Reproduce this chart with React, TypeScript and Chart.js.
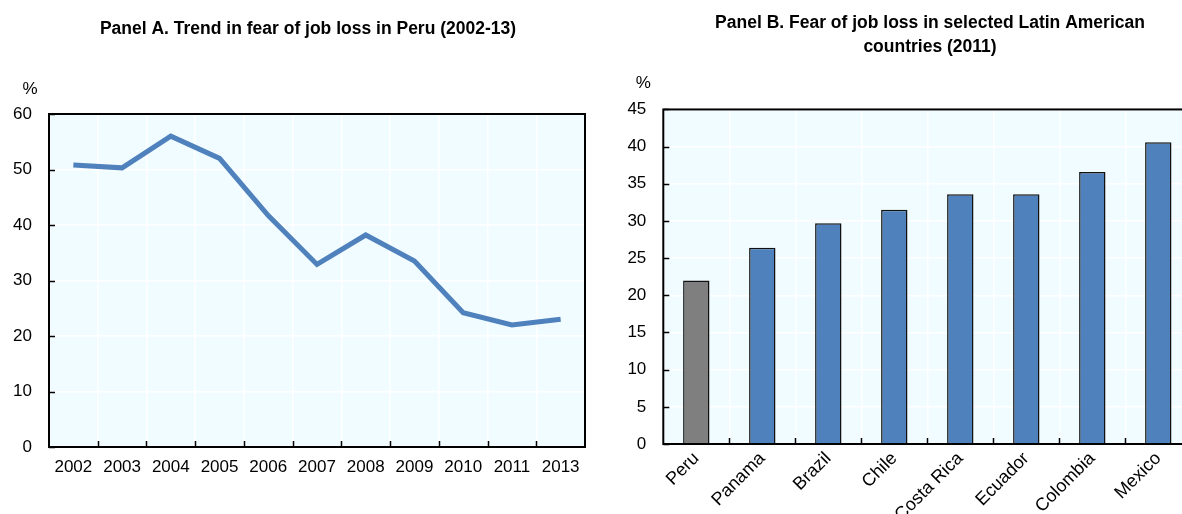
import React, { useEffect, useRef } from 'react';
import { Chart, registerables } from 'chart.js';

Chart.register(...registerables);

// ---- Data ----
const yearsA = ['2002', '2003', '2004', '2005', '2006', '2007', '2008', '2009', '2010', '2011', '2013'];
const fearPeru = [50.8, 50.3, 56.0, 52.0, 41.7, 32.9, 38.2, 33.5, 24.2, 22.0, 23.0];

const countriesB = ['Peru', 'Panama', 'Brazil', 'Chile', 'Costa Rica', 'Ecuador', 'Colombia', 'Mexico'];
const fearB = [22.0, 26.4, 29.7, 31.5, 33.6, 33.6, 36.6, 40.6];
const highlightCountry = 'Peru';

const titleA = 'Panel A. Trend in fear of job loss in Peru (2002-13)';
const titleB = ['Panel B. Fear of job loss in selected Latin American', 'countries (2011)'];
const unitLabel = '%';

// ---- Styles ----
const FONT = '"Liberation Sans", Arial, sans-serif';
const BLUE = '#4F81BD';
const GREY = '#7F7F7F';
const PLOT_BG = '#F0FCFF';

const framePlugin = {
  id: 'frame',
  beforeDraw(chart: any) {
    const { ctx, chartArea: a } = chart;
    ctx.save();
    ctx.fillStyle = PLOT_BG;
    ctx.fillRect(a.left, a.top, a.right - a.left, a.bottom - a.top);
    ctx.restore();
  },
  afterDraw(chart: any, _args: any, opts: any) {
    const { ctx, chartArea: a, scales } = chart;
    ctx.save();
    ctx.strokeStyle = '#000';
    ctx.lineWidth = 1.5;
    const xs = scales.x;
    const n = xs.ticks.length;
    ctx.beginPath();
    for (let i = 1; i < n; i++) {
      const px = Math.round((xs.getPixelForValue(i - 1) + xs.getPixelForValue(i)) / 2) + 0.5;
      ctx.moveTo(px, a.bottom);
      ctx.lineTo(px, a.bottom - 6);
    }
    const ys = scales.y;
    ys.ticks.forEach((t: any) => {
      const py = Math.round(ys.getPixelForValue(t.value)) + 0.5;
      ctx.moveTo(a.left, py);
      ctx.lineTo(a.left + 6, py);
    });
    ctx.stroke();
    ctx.lineWidth = 2;
    ctx.strokeRect(a.left, a.top, a.right - a.left, a.bottom - a.top);
    ctx.fillStyle = '#000';
    ctx.font = `17px ${FONT}`;
    ctx.textAlign = 'center';
    ctx.textBaseline = 'middle';
    ctx.fillText(opts.unit, a.left + opts.unitDx, a.top + opts.unitDy);
    ctx.restore();
  },
};

export default function App() {
  const refA = useRef<HTMLCanvasElement>(null);
  const refB = useRef<HTMLCanvasElement>(null);

  useEffect(() => {
    const tickFont = { family: FONT, size: 17 };
    const catFontB = { family: FONT, size: 18 };
    const titleFont = { family: FONT, size: 17.5, weight: 'bold' as const };

    const spacer = (w: number) => ({
      position: 'right' as const,
      display: true,
      grid: { display: false },
      border: { display: false },
      ticks: { display: false },
      afterFit: (s: any) => { s.width = w; },
    });

    const chartA = new Chart(refA.current!, {
      type: 'line',
      data: {
        labels: yearsA,
        datasets: [
          {
            data: fearPeru,
            borderColor: BLUE,
            borderWidth: 5,
            pointRadius: 0,
            tension: 0,
            fill: false,
          },
        ],
      },
      options: {
        responsive: false,
        animation: false,
        layout: { padding: { left: 0, right: 0, top: 19, bottom: 37 } },
        plugins: {
          legend: { display: false },
          tooltip: { enabled: false },
          title: {
            display: true,
            text: titleA,
            color: '#000',
            font: { ...titleFont, lineHeight: 1.2 },
            padding: { top: 0, bottom: 74 },
          },
          frame: { unit: unitLabel, unitDx: -19, unitDy: -25 },
        } as any,
        scales: {
          x: {
            offset: true,
            grid: { offset: true, color: '#FFFFFF', lineWidth: 1.5, drawTicks: false },
            border: { display: false },
            ticks: { color: '#000', font: tickFont, padding: 10, maxRotation: 0, autoSkip: false },
            afterFit: (s: any) => { s.height = 30; },
          },
          y: {
            min: 0,
            max: 60,
            grid: { color: '#FFFFFF', lineWidth: 1.5, drawTicks: false },
            border: { display: false },
            ticks: { stepSize: 10, color: '#000', font: tickFont, padding: 17 },
            afterFit: (s: any) => { s.width = 49; },
          },
          y2: spacer(31),
        } as any,
      },
      plugins: [framePlugin],
    });

    const chartB = new Chart(refB.current!, {
      type: 'bar',
      data: {
        labels: countriesB,
        datasets: [
          {
            data: fearB,
            backgroundColor: countriesB.map((c) => (c === highlightCountry ? GREY : BLUE)),
            borderColor: '#111111',
            borderWidth: 1.5,
            categoryPercentage: 0.8,
            barPercentage: 0.5,
          },
        ],
      },
      options: {
        responsive: false,
        animation: false,
        layout: { padding: { left: 0, right: 0, top: 11, bottom: 0 } },
        plugins: {
          legend: { display: false },
          tooltip: { enabled: false },
          title: {
            display: true,
            text: titleB,
            color: '#000',
            font: { ...titleFont, lineHeight: 1.37 },
            padding: { top: 0, bottom: 50.5 },
          },
          frame: { unit: unitLabel, unitDx: -20, unitDy: -26 },
        } as any,
        scales: {
          x: {
            grid: { color: '#FFFFFF', lineWidth: 1.5, drawTicks: false },
            border: { display: false },
            ticks: { color: '#000', font: catFontB, padding: 4, maxRotation: 45, minRotation: 45, autoSkip: false },
            afterFit: (s: any) => { s.height = 70; },
          },
          y: {
            min: 0,
            max: 45,
            grid: { color: '#FFFFFF', lineWidth: 1.5, drawTicks: false },
            border: { display: false },
            ticks: { stepSize: 5, color: '#000', font: tickFont, padding: 17 },
            afterFit: (s: any) => { s.width = 47.3; },
          },
          y2: spacer(52.7),
        } as any,
      },
      plugins: [framePlugin],
    });

    return () => {
      chartA.destroy();
      chartB.destroy();
    };
  }, []);

  return (
    <div style={{ position: 'absolute', left: 0, top: 0, width: 1182, height: 514, overflow: 'hidden', background: '#fff' }}>
      <div style={{ position: 'absolute', left: 0, top: 0, width: 616, height: 514 }}>
        <canvas ref={refA} width={616} height={514} style={{ display: 'block' }} />
      </div>
      <div style={{ position: 'absolute', left: 616, top: 0, width: 628, height: 514 }}>
        <canvas ref={refB} width={628} height={514} style={{ display: 'block' }} />
      </div>
    </div>
  );
}
